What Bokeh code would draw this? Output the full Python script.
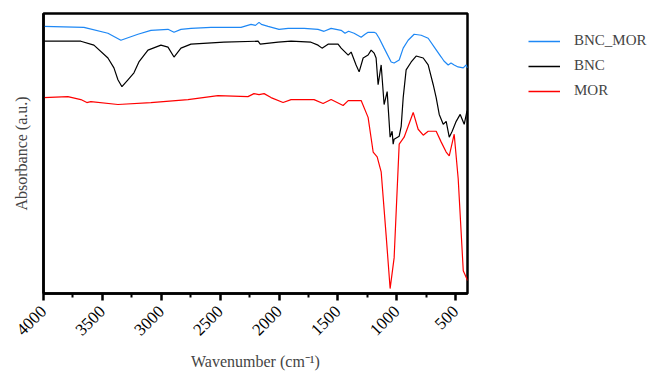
from math import pi
from bokeh.plotting import figure
from bokeh.layouts import row
from bokeh.models import Range1d, FixedTicker, Legend, LegendItem
from bokeh.embed import file_html
from bokeh.resources import INLINE

# ---- data (arbitrary absorbance units) ----
bnc_mor_wn = [4000, 3657, 3453, 3343, 3198, 3088, 2943, 2892, 2833, 2748, 2578, 2323,
              2238, 2200, 2170, 2150, 2093, 2000, 1923, 1787, 1669, 1618, 1558, 1473,
              1440, 1410, 1363, 1303, 1270, 1244, 1193, 1176, 1150, 1108, 1048, 1023,
              980, 946, 904, 853, 793, 734, 682, 623, 600, 564, 540, 513, 480, 436, 411, 400]
bnc_mor_ab = [270, 269, 263, 256, 262, 266, 267, 264, 267, 268, 269, 269,
              272, 271, 274, 272, 270, 267, 268, 268, 267, 265, 268, 266,
              263, 265, 263, 259, 262, 264, 264, 263, 258, 248, 234, 233,
              236, 248, 256, 262, 261, 258, 249, 239, 235, 231, 233, 231, 229, 228, 231, 228]

bnc_wn = [4000, 3683, 3572, 3453, 3402, 3368, 3334, 3283, 3232, 3190, 3113, 3003,
          2943, 2892, 2833, 2748, 2468, 2178, 2160, 2008, 1898, 1729, 1669, 1635,
          1584, 1499, 1473, 1413, 1388, 1346, 1320, 1286, 1244, 1218, 1193, 1176,
          1159, 1133, 1108, 1082, 1057, 1040, 1031, 1023, 980, 963, 946, 921, 878,
          836, 776, 734, 691, 666, 640, 606, 581, 555, 530, 496, 462, 428, 405, 400]
bnc_ab = [255, 255, 251, 238, 228, 216, 209, 216, 223, 234, 246, 251,
          249, 239, 248, 252, 254, 255, 252, 254, 255, 254, 251, 248,
          252, 252, 248, 241, 244, 231, 224, 238, 241, 246, 243, 238,
          211, 231, 191, 204, 158, 164, 151, 156, 159, 169, 198, 226, 234,
          240, 238, 231, 211, 198, 181, 171, 174, 158, 164, 174, 181, 171, 184, 185]

mor_wn = [4000, 3793, 3683, 3632, 3598, 3368, 3088, 2773, 2519, 2264, 2213, 2170,
          2127, 2068, 1966, 1898, 1703, 1626, 1558, 1456, 1413, 1303, 1244, 1201,
          1167, 1133, 1091, 1057, 1023, 980, 938, 861, 819, 776, 734, 666, 623,
          581, 555, 513, 479, 436, 402, 400]
mor_ab = [198, 199, 196, 193, 194, 191, 193, 196, 200, 199, 202, 201,
          202, 198, 193, 196, 196, 192, 196, 190, 195, 195, 178, 143,
          138, 123, 59, 5, 36, 151, 158, 183, 166, 160, 164, 164, 153,
          143, 139, 161, 116, 23, 14, 13]

series_names = ["BNC_MOR", "BNC", "MOR"]
series_colors = ["#1E88F5", "#000000", "#FF0000"]

x_ticks = [4000, 3500, 3000, 2500, 2000, 1500, 1000, 500]
x_tick_labels = ["4000", "3500", "3000", "2500", "2000", "1500", "1000", "500"]
x_minor = [3750, 3250, 2750, 2250, 1750, 1250, 750]

FONT = "Liberation Serif"
H = 373

p = figure(width=469, height=H, output_backend="svg", toolbar_location=None,
           x_range=Range1d(4000, 400), y_range=Range1d(0, 283),
           min_border_left=43, min_border_top=13, min_border_right=2,
           min_border_bottom=77)
p.background_fill_color = None
p.border_fill_color = None
p.grid.visible = False
p.outline_line_color = "black"
p.outline_line_width = 2.5

p.line(bnc_mor_wn, bnc_mor_ab, color=series_colors[0], line_width=1.2)
p.line(bnc_wn, bnc_ab, color=series_colors[1], line_width=1.2)
p.line(mor_wn, mor_ab, color=series_colors[2], line_width=1.2)

xa = p.xaxis[0]
xa.ticker = FixedTicker(ticks=x_ticks, minor_ticks=x_minor)
xa.major_label_overrides = {t: l for t, l in zip(x_ticks, x_tick_labels)}
xa.major_label_orientation = pi / 4
xa.major_label_text_font = FONT
xa.major_label_text_font_size = "17px"
xa.major_label_text_color = "black"
xa.major_label_standoff = 8
xa.axis_line_width = 2.5
xa.major_tick_line_width = 2.5
xa.minor_tick_line_width = 2.0
xa.major_tick_out = 7
xa.major_tick_in = 0
xa.minor_tick_out = 4
xa.minor_tick_in = 0
xa.axis_label = "Wavenumber (cm\u207b\u00b9)"
xa.axis_label_text_font = FONT
xa.axis_label_text_font_style = "normal"
xa.axis_label_text_font_size = "16px"
xa.axis_label_standoff = 10

ya = p.yaxis[0]
ya.ticker = FixedTicker(ticks=[])
ya.major_tick_line_color = None
ya.minor_tick_line_color = None
ya.axis_line_width = 2.5
ya.axis_label = "Absorbance (a.u.)"
ya.axis_label_text_font = FONT
ya.axis_label_text_font_style = "normal"
ya.axis_label_text_font_size = "16px"
ya.axis_label_standoff = 14

# legend panel (separate figure to the right of the plot)
q = figure(width=180, height=H, output_backend="svg", toolbar_location=None,
           x_range=Range1d(0, 1), y_range=Range1d(0, 1),
           min_border=0, min_border_left=0, min_border_right=0,
           min_border_top=0, min_border_bottom=0)
q.axis.visible = False
q.grid.visible = False
q.outline_line_color = None
q.background_fill_color = None
q.border_fill_color = None
# proxy lines lying outside the visible range, used only for the legend swatches
lr = [q.line([5, 6], [5, 6], color=c, line_width=1.3) for c in series_colors]

legend = Legend(items=[LegendItem(label=n, renderers=[r]) for n, r in zip(series_names, lr)],
                location=(59, 194), orientation="vertical")
legend.glyph_width = 32
legend.glyph_height = 16
legend.label_height = 16
legend.spacing = 8
legend.padding = 0
legend.margin = 0
legend.label_standoff = 14
legend.label_text_font = FONT
legend.label_text_font_size = "15px"
legend.border_line_color = None
legend.background_fill_color = None
q.add_layout(legend, "center")

layout = row(p, q, spacing=0)
open("out.html", "w").write(file_html(layout, INLINE))
